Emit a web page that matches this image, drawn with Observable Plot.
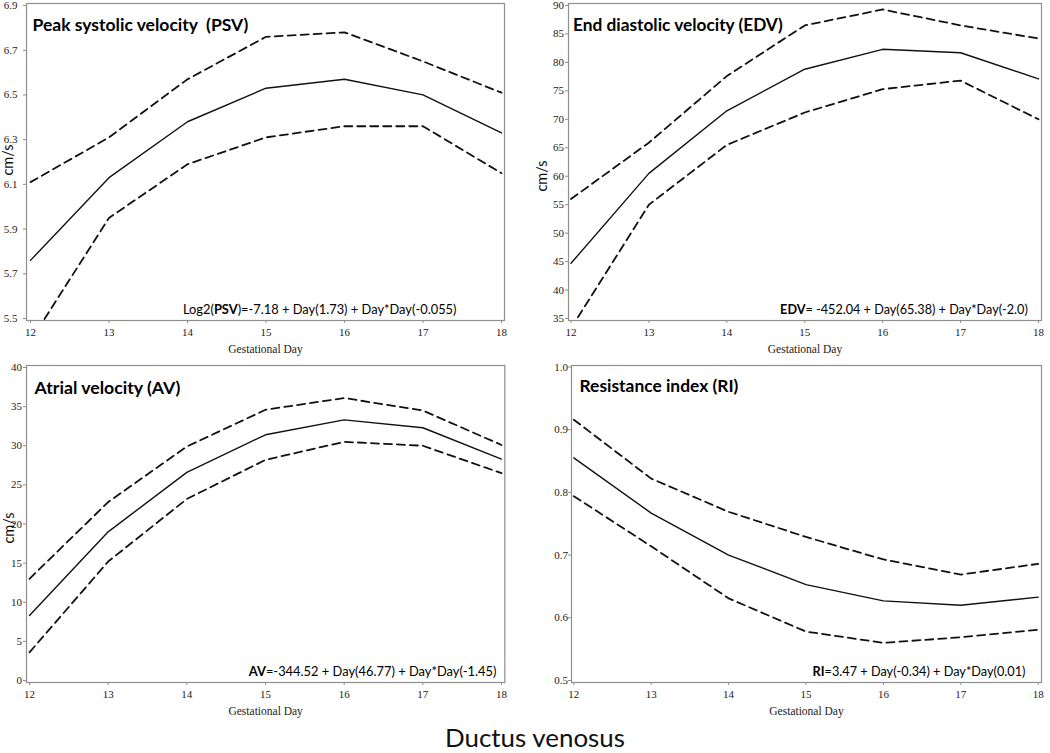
<!DOCTYPE html>
<html><head><meta charset="utf-8">
<script src="https://cdn.jsdelivr.net/npm/d3@7"></script>
<script src="https://cdn.jsdelivr.net/npm/@observablehq/plot@0.6"></script>
<style>
body{margin:0;background:#fff;}
#wrap{position:relative;width:1050px;height:753px;overflow:hidden;background:#fff;}
.panel{position:absolute;}
#caption{position:absolute;left:0;width:1070px;text-align:center;font-family:Lato,"Open Sans",sans-serif;color:#111;line-height:1;white-space:nowrap;}
#caption span{display:inline-block;}
</style></head><body><div id="wrap"><div id="caption"><span id="capspan"></span></div></div>
<script>
// ---------- data ----------
const days = [12, 13, 14, 15, 16, 17, 18];

const psvMean  = [5.76, 6.13, 6.38, 6.53, 6.57, 6.50, 6.33];
const psvUpper = [6.11, 6.31, 6.57, 6.76, 6.78, 6.65, 6.51];
const psvLower = [5.40, 5.95, 6.19, 6.31, 6.36, 6.36, 6.15];

const edvMean  = [44.7, 60.5, 71.5, 78.8, 82.3, 81.7, 77.1];
const edvUpper = [56.0, 65.9, 77.6, 86.5, 89.3, 86.5, 84.2];
const edvLower = [33.3, 55.0, 65.5, 71.2, 75.3, 76.8, 70.0];

const avMean  = [8.3, 19.0, 26.6, 31.4, 33.3, 32.3, 28.3];
const avUpper = [13.0, 22.8, 29.9, 34.6, 36.1, 34.5, 30.1];
const avLower = [3.6, 15.2, 23.2, 28.2, 30.5, 30.0, 26.5];

const riMean  = [0.855, 0.767, 0.700, 0.653, 0.627, 0.620, 0.633];
const riUpper = [0.916, 0.822, 0.769, 0.729, 0.693, 0.669, 0.686];
const riLower = [0.794, 0.714, 0.631, 0.578, 0.560, 0.569, 0.581];

const psvTicks = [5.5, 5.7, 5.9, 6.1, 6.3, 6.5, 6.7, 6.9];
const edvTicks = [35, 40, 45, 50, 55, 60, 65, 70, 75, 80, 85, 90];
const avTicks  = [0, 5, 10, 15, 20, 25, 30, 35, 40];
const riTicks  = [0.5, 0.6, 0.7, 0.8, 0.9, 1.0];

const titles = ["Peak systolic velocity  (PSV)", "End diastolic velocity (EDV)", "Atrial velocity (AV)", "Resistance index (RI)"];
// formula segments: [text, bold]
const formulas = [
  [["Log2(", 0], ["PSV", 1], [")=-7.18 + Day(1.73) + Day*Day(-0.055)", 0]],
  [["EDV", 1], ["= -452.04 + Day(65.38) + Day*Day(-2.0)", 0]],
  [["AV", 1], ["=-344.52 + Day(46.77) + Day*Day(-1.45)", 0]],
  [["RI", 1], ["=3.47 + Day(-0.34) + Day*Day(0.01)", 0]]
];
const xLabel = "Gestational Day";
const yLabel = "cm/s";
const captionText = "Ductus venosus";

// ---------- layout ----------
const panels = [
  {left: 0, top: 0, width: 520, height: 360, mL: 26, mR: 16, mT: 3, mB: 40, iL: 4, iR: 3, iT: 2, iB: 2,
   domain: [5.5, 6.9], ticks: psvTicks, fmt: d3.format(".1f"), pad: 6,
   mean: psvMean, upper: psvUpper, lower: psvLower, title: titles[0], formula: formulas[0],
   tdx: 6, tdy: 22, tw: 216, fdx: -48, fdy: -10.5, fw: 274, ylab: true, ycx: 7, ycy: 160},
  {left: 520, top: 0, width: 530, height: 360, mL: 48, mR: 9, mT: 3, mB: 40, iL: 2.5, iR: 3, iT: 2, iB: 2,
   domain: [35, 90], ticks: edvTicks, fmt: d3.format("d"), pad: 1.5,
   mean: edvMean, upper: edvUpper, lower: edvLower, title: titles[1], formula: formulas[1],
   tdx: 4.5, tdy: 22, tw: 210, fdx: -13.7, fdy: -10.5, fw: 248, ylab: true, ycx: 21, ycy: 176},
  {left: 0, top: 360, width: 520, height: 370, mL: 26, mR: 15.7, mT: 5, mB: 48, iL: 3, iR: 3.3, iT: 2, iB: 2,
   domain: [0, 40], ticks: avTicks, fmt: d3.format("d"), pad: 1.5,
   mean: avMean, upper: avUpper, lower: avLower, title: titles[2], formula: formulas[2],
   tdx: 8, tdy: 23, tw: 146, fdx: -8.3, fdy: -11, fw: 248, ylab: true, ycx: 8, ycy: 168},
  {left: 520, top: 360, width: 530, height: 370, mL: 51, mR: 9, mT: 5, mB: 48, iL: 2.3, iR: 3.3, iT: 1.5, iB: 2,
   domain: [0.5, 1.0], ticks: riTicks, fmt: d3.format(".1f"), pad: 0.5,
   mean: riMean, upper: riUpper, lower: riLower, title: titles[3], formula: formulas[3],
   tdx: 8, tdy: 20.5, tw: 159, fdx: -16, fdy: -11, fw: 213, ylab: false}
];

const wrap = document.getElementById("wrap");
const SANS = "Lato, 'Open Sans', sans-serif";
const SERIF = "'Liberation Serif', 'DejaVu Serif', serif";

function fitWidth(el, target) {
  const w = el.getComputedTextLength();
  const fs = parseFloat(getComputedStyle(el).fontSize);
  if (w > 0) el.style.fontSize = (fs * target / w) + "px";
}

panels.forEach(p => {
  const data = days.map((d, i) => ({day: d, mean: p.mean[i], upper: p.upper[i], lower: p.lower[i]}));
  const plainFormula = p.formula.map(s => s[0]).join("");
  const marks = [
    Plot.frame({stroke: "#8f8f8f", strokeWidth: 1.2}),
    Plot.axisX({ticks: days, tickFormat: d3.format("d"), tickSize: 3, tickPadding: 4.5, label: null, stroke: "#8f8f8f", fill: "#222"}),
    Plot.axisY({ticks: p.ticks, tickFormat: p.fmt, tickSize: 3, tickPadding: p.pad, label: null, stroke: "#8f8f8f", fill: "#222"}),
    Plot.line(data, {x: "day", y: "upper", stroke: "#111", strokeWidth: 1.8, strokeDasharray: "8,5", clip: true}),
    Plot.line(data, {x: "day", y: "lower", stroke: "#111", strokeWidth: 1.8, strokeDasharray: "8,5", clip: true}),
    Plot.line(data, {x: "day", y: "mean", stroke: "#111", strokeWidth: 1.4, clip: true}),
    Plot.text([p.title], {frameAnchor: "top-left", dx: p.tdx, dy: p.tdy, textAnchor: "start", lineAnchor: "middle",
      fontFamily: SANS, fontWeight: "bold", fontSize: 19, fill: "#000"}),
    Plot.text([plainFormula], {frameAnchor: "bottom-right", dx: p.fdx, dy: p.fdy, textAnchor: "end", lineAnchor: "middle",
      fontFamily: SANS, fontSize: 15, fill: "#000"}),
    Plot.text([xLabel], {frameAnchor: "bottom", dy: 29, lineAnchor: "middle", fontFamily: SERIF, fontSize: 11.5, fill: "#222"})
  ];
  if (p.ylab) marks.push(Plot.text([yLabel], {frameAnchor: "left", rotate: -90, lineAnchor: "middle",
      fontFamily: SANS, fontSize: 14.5, fill: "#111"}));
  const svg = Plot.plot({
    width: p.width, height: p.height,
    marginLeft: p.mL, marginRight: p.mR, marginTop: p.mT, marginBottom: p.mB,
    insetLeft: p.iL, insetRight: p.iR, insetTop: p.iT, insetBottom: p.iB,
    style: {background: "transparent", fontFamily: SERIF, fontSize: "11px", overflow: "visible"},
    x: {domain: [12, 18]},
    y: {domain: p.domain},
    marks
  });
  svg.classList.add("panel");
  svg.style.left = p.left + "px";
  svg.style.top = p.top + "px";
  wrap.appendChild(svg);

  const svgRect = svg.getBoundingClientRect();
  svg.querySelectorAll("text").forEach(t => {
    if (t.textContent === p.title) {
      t.style.whiteSpace = "pre";
      t.setAttribute("xml:space", "preserve");
      fitWidth(t, p.tw);
    } else if (t.textContent === plainFormula) {
      while (t.firstChild) t.removeChild(t.firstChild);
      p.formula.forEach(([s, b]) => {
        const ts = document.createElementNS("http://www.w3.org/2000/svg", "tspan");
        ts.textContent = s;
        if (b) ts.setAttribute("font-weight", "bold");
        t.appendChild(ts);
      });
      fitWidth(t, p.fw);
    } else if (p.ylab && t.textContent === yLabel) {
      // move the rotated axis label so that its centre sits where the reference has it
      const r = t.getBoundingClientRect();
      const cx = r.left + r.width / 2 - svgRect.left;
      const cy = r.top + r.height / 2 - svgRect.top;
      const prev = t.getAttribute("transform") || "";
      t.setAttribute("transform", `translate(${p.ycx - cx},${p.ycy - cy}) ` + prev);
    }
  });
});

// caption
const cap = document.getElementById("capspan");
cap.textContent = captionText;
cap.style.fontSize = "26px";
const cw = cap.getBoundingClientRect().width;
const capFs = 26 * 180 / cw;
cap.style.fontSize = capFs + "px";
const capDiv = document.getElementById("caption");
capDiv.style.top = (751 - capFs * 1.0) + "px";
</script>
</body></html>
